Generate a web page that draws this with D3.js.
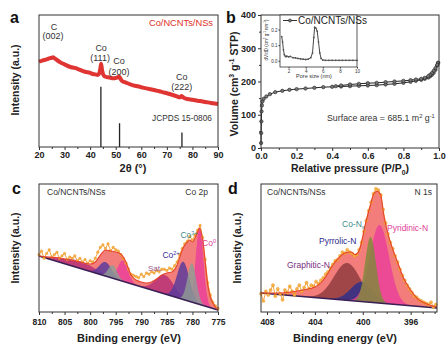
<!DOCTYPE html>
<html><head><meta charset="utf-8">
<script src="https://cdn.jsdelivr.net/npm/d3@7"></script>
<style>body{margin:0;background:#fff}svg{display:block}text{font-family:"Liberation Sans",Arial,sans-serif}</style>
</head><body><svg id="fig" width="448" height="351"></svg>
<script>
// ---------- (a) XRD ----------
const xrdTheta = [20,21,22,23,24,25,25.5,26,27,28,29,30,32,34,36,38,40,41,42,43,43.6,44,44.3,44.6,45,45.5,46,47,48,49,50,50.8,51.3,51.8,52.5,54,56,58,60,62,64,66,68,70,72,74,75,75.8,76.5,78,80,82,84,86,88,90];
const xrdIntensity = [64.6,65.3,65.9,66.4,67.2,67.6,67.9,67.3,65.9,64.6,63.4,62.6,60.8,59.9,58.5,57.0,56.1,55.3,55.0,54.5,56.0,59.5,63.0,59.0,55.5,53.8,53.2,52.8,52.4,52.0,52.3,52.8,53.5,51.8,50.0,48.8,47.3,46.2,45.3,44.4,43.6,42.7,41.8,40.7,39.6,38.3,37.6,38.6,37.4,36.4,35.8,35.1,34.5,33.8,33.2,32.6];
const jcpdsTheta = [44.2, 51.5, 75.9];
const jcpdsIntensity = [45.7, 18, 11];
const xrdTicks = [20,30,40,50,60,70,80,90];
const xrdMinor = [25,35,45,55,65,75,85];
const xrdPeakLabels = [["C","(002)",25.5,67.9],["Co","(111)",44.3,63.0],["Co","(200)",51.3,53.5],["Co","(222)",75.8,38.6]];

// ---------- (b) N2 isotherm ----------
const adsP = [0.0005,0.001,0.002,0.003,0.005,0.008,0.015,0.03,0.05,0.08,0.12,0.16,0.2,0.25,0.3,0.35,0.4,0.45,0.5,0.55,0.6,0.65,0.7,0.75,0.8,0.84,0.87,0.9,0.92,0.94,0.95,0.96,0.97,0.98,0.99,0.995];
const adsV = [15,45,80,110,128,140,148,155,162,168,172,175,177,179,181,183,184,185,186,187,188,189,191,193,196,199,202,205,208,212,216,220,226,235,248,256];
const desP = [0.995,0.99,0.98,0.97,0.96,0.95,0.94,0.92,0.9,0.87,0.84,0.8,0.75,0.7,0.65,0.6,0.55,0.5,0.45,0.42];
const desV = [256,250,240,232,225,220,216,211,208,206,204,202,200,198,196,195,193,191,188,186];
const isoXTicks = [0,0.2,0.4,0.6,0.8,1.0];
const isoYTicks = [0,100,200,300,400];
// inset pore size distribution
const poreSize = [1.2,1.3,1.4,1.5,1.6,1.7,1.8,2.0,2.2,2.5,2.8,3.1,3.4,3.7,4.0,4.3,4.6,4.8,4.95,5.05,5.2,5.35,5.5,5.65,5.8,6.0,6.3,6.7,7.1,7.5,7.9,8.3,8.7,9.1,9.5,10];
const poreDV = [0.155,0.12,0.07,0.04,0.03,0.025,0.03,0.025,0.028,0.02,0.018,0.015,0.012,0.01,0.008,0.01,0.02,0.05,0.15,0.215,0.21,0.19,0.12,0.05,0.015,0.005,0.003,0.003,0.003,0.003,0.003,0.003,0.003,0.003,0.003,0.003];
const poreXTicks = [2,4,6,8,10];
const poreYTicks = [0.0,0.1,0.2];

// ---------- (c) Co 2p XPS ----------
const coData = [[810,47],[809.5,50],[809,44],[808.5,48],[808,51],[807.5,45],[807,47],[806.5,49],[806,44],[805.5,46],[805,48],[804.5,43],[804,45],[803.5,44],[803,46],[802.5,42],[802,44],[801.5,41],[801,43],[800.5,40],[800,42],[799.5,41],[799,44],[798.5,49],[798,53],[797.5,55],[797,52],[796.5,56],[796,50],[795.5,53],[795,51],[794.5,50],[794,47],[793.5,44],[793,40],[792.5,35],[792,31],[791.5,30],[791,29],[790.5,28],[790,31],[789.5,29],[789,32],[788.5,31],[788,33],[787.5,32],[787,34],[786.5,33],[786,35],[785.5,35],[785,34],[784.5,36],[784,35],[783.5,38],[783,41],[782.5,47],[782,52],[781.5,56],[781,58],[780.5,62],[780,59],[779.5,63],[779,67],[778.5,71],[778,61],[777.5,43],[777,24],[776.5,14],[776,8],[775.5,5],[775,3]];
const coEnvelope = [[810,45.9],[808,45],[806,44.3],[804,42.6],[802,41],[800,39.3],[799,41],[798,46.7],[797,50.8],[796,50],[795,49.2],[794,47.5],[793,41],[792,30.3],[791,26.2],[790,24.6],[789,23.8],[788,24.6],[787,27],[786,30.3],[785,32],[784,32.8],[783,38.5],[782,50.8],[781,57.4],[780.5,59],[780,57.4],[779.5,60.7],[779,65.6],[778.6,68.9],[778,59],[777.5,41],[777,22.1],[776.5,12.3],[776,7.4],[775,1.6]];
const coBaseline = [[810,45.9],[775,1.6]];
const coPeakCenter = [802.3, 785.4, 793.6, 778.6, 797.0, 781.8, 795.6, 780.1];
const coPeakHeight = [6, 15.5, 17, 62.7, 11.5, 31, 10.8, 32];
const coPeakSigma = [3.2, 1.8, 1.0, 0.75, 1.2, 1.2, 0.85, 0.85];
const coPeakSpecies = ["Sat.","Sat.","Co0","Co0","Co2+","Co2+","Co3+","Co3+"];
const coTicks = [810,805,800,795,790,785,780,775];

// ---------- (d) N 1s XPS ----------
const nData = [[408.5,15],[408.3,9],[408.1,17],[407.9,14],[407.7,18],[407.5,22],[407.3,13],[407.1,19],[406.9,15],[406.7,10],[406.5,18],[406.3,16],[406.1,21],[405.9,17],[405.7,14],[405.5,19],[405.3,22],[405.1,17],[404.9,20],[404.7,24],[404.5,19],[404.3,22],[404.1,21],[403.9,25],[403.7,23],[403.5,26],[403.3,28],[403.1,31],[402.9,33],[402.7,36],[402.5,39],[402.3,42],[402.1,43],[401.9,46],[401.7,49],[401.5,48],[401.3,51],[401.1,49],[400.9,48],[400.7,46],[400.5,47],[400.3,51],[400.1,57],[399.9,66],[399.7,75],[399.5,83],[399.3,90],[399.1,97],[398.9,101],[398.7,100],[398.5,96],[398.3,84],[398.1,73],[397.9,64],[397.7,57],[397.5,52],[397.3,46],[397.1,41],[396.9,35],[396.7,30],[396.5,26],[396.3,22],[396.1,19],[395.9,16],[395.7,13],[395.5,12],[395.3,10],[395.1,9],[394.9,8],[394.7,7],[394.5,6],[394.3,8],[394.1,4],[393.9,6]];
const nEnvelope = [[408.5,15.6],[407,15.6],[406,16.4],[405,18],[404,20.5],[403.5,23.8],[403,30.3],[402.5,38.5],[402,44.3],[401.5,48.4],[401,49.2],[400.6,47],[400.2,53.3],[399.8,71.3],[399.36,87.7],[399.1,96.5],[398.8,99],[398.5,95.9],[398.25,79.5],[397.7,57.4],[397.1,41],[396.6,27.9],[396,18],[395.5,11.5],[394.4,5.7],[393.8,4.1]];
const nBaseline = [[408.5,15.6],[393.8,3.3]];
const nPeakCenter = [401.3, 400.1, 398.6, 399.35];
const nPeakHeight = [30.6, 16, 64, 53.6];
const nPeakSigma = [1.1, 0.9, 0.8, 0.45];
const nPeakSpecies = ["Graphitic-N","Pyrrolic-N","Pyridinic-N","Co-Nx"];
const nTicks = [408,404,400,396];
const nMinor = [407,406,405,403,402,401,399,398,397,395,394];

// ---------- drawing ----------
const svg = d3.select("#fig");
const FONT = "'Liberation Sans', Arial, sans-serif";

function txt(g, x, y, s, o = {}) {
  const t = g.append("text").attr("x", x).attr("y", y).text(s)
    .attr("font-size", o.size || 9).attr("fill", o.fill || "#222")
    .attr("font-weight", o.bold ? "bold" : "normal")
    .attr("text-anchor", o.anchor || "start");
  if (o.rot) t.attr("transform", `rotate(-90,${x},${y})`);
  return t;
}
function rich(g, x, y, parts, o = {}) {
  const size = o.size || 9;
  const t = g.append("text").attr("x", x).attr("y", y)
    .attr("font-size", size).attr("fill", o.fill || "#222")
    .attr("font-weight", o.bold ? "bold" : "normal")
    .attr("text-anchor", o.anchor || "start");
  if (o.rot) t.attr("transform", `rotate(-90,${x},${y})`);
  let shift = 0;
  parts.forEach(([s, k]) => {
    const target = k === "sup" ? -0.38 * size : k === "sub" ? 0.25 * size : 0;
    t.append("tspan").attr("dy", target - shift).attr("font-size", k === "n" ? size : size * 0.65).text(s);
    shift = target;
  });
  return t;
}
function frame(x0, y0, x1, y1) {
  svg.append("rect").attr("x", x0).attr("y", y0).attr("width", x1 - x0).attr("height", y1 - y0)
    .attr("fill", "none").attr("stroke", "#333").attr("stroke-width", 1);
}
function xAxis(scale, y, majors, minors, fmt, size, pad) {
  const g = svg.append("g").attr("transform", `translate(0,${y})`)
    .call(d3.axisBottom(scale).tickValues(majors).tickSize(3).tickPadding(pad).tickFormat(fmt));
  g.select(".domain").remove();
  g.selectAll("line").attr("stroke", "#333");
  g.selectAll("text").attr("font-size", size).attr("font-weight", "bold").attr("fill", "#222").attr("font-family", FONT);
  if (minors && minors.length) {
    const m = svg.append("g").attr("transform", `translate(0,${y})`)
      .call(d3.axisBottom(scale).tickValues(minors).tickSize(2).tickFormat(""));
    m.select(".domain").remove();
    m.selectAll("line").attr("stroke", "#333");
  }
  return g;
}

// ===== panel a =====
{
  const x = d3.scaleLinear([20, 90], [39, 218]);
  const y = d3.scaleLinear([0, 100], [147, 15]);
  const g = svg.append("g");
  g.selectAll("line.stick").data(jcpdsTheta).join("line")
    .attr("x1", d => x(d)).attr("x2", d => x(d))
    .attr("y1", y(0)).attr("y2", (d, i) => y(jcpdsIntensity[i]))
    .attr("stroke", "#222").attr("stroke-width", 1.3);
  const line = d3.line().x((d, i) => x(xrdTheta[i])).y(d => y(d)).curve(d3.curveMonotoneX);
  g.append("path").attr("d", line(xrdIntensity)).attr("fill", "none")
    .attr("stroke", "#d9201f").attr("stroke-width", 4).attr("stroke-linejoin", "round").attr("opacity", 0.9);
  g.append("path").attr("d", line(xrdIntensity)).attr("fill", "none")
    .attr("stroke", "#e8322c").attr("stroke-width", 1.2).attr("stroke-dasharray", "1.5,1.5");
  frame(39, 15, 218, 147);
  xAxis(x, 147, xrdTicks, xrdMinor, d3.format("d"), 9, 2);
  xrdPeakLabels.forEach(([a, b, t, v], i) => {
    const offs = [[-27, -17], [-13, -3], [-12, -1], [-16, -6]][i];
    txt(g, x(t) + (i === 0 ? 1 : 0), y(v) + offs[0], a, { size: 9, anchor: "middle", fill: "#333" });
    txt(g, x(t) + (i === 1 ? -1 : 0), y(v) + offs[1] + (i === 0 ? -1 : 0), b, { size: 9, anchor: "middle", fill: "#333" });
  });
  txt(g, 152, 121, "JCPDS 15-0806", { size: 8.3, fill: "#333" });
  txt(g, 213, 25.5, "Co/NCNTs/NSs", { size: 9.3, fill: "#e0302a", anchor: "end" });
  txt(g, 10, 23, "a", { size: 16, bold: true, fill: "#111" });
  txt(g, 19, 80, "Intensity (a.u.)", { size: 10.5, bold: true, rot: true, anchor: "middle", fill: "#222" });
  txt(g, 133, 172, "2θ (°)", { size: 11, bold: true, anchor: "middle", fill: "#222" });
}

// ===== panel b =====
{
  const x = d3.scaleLinear([0, 1], [261, 439]);
  const y = d3.scaleLinear([0, 400], [148, 15]);
  const g = svg.append("g");
  const line = d3.line().x(d => x(d[0])).y(d => y(d[1]));
  const ads = adsP.map((p, i) => [p, adsV[i]]);
  const des = desP.map((p, i) => [p, desV[i]]);
  [ads, des].forEach(arr => {
    g.append("path").attr("d", line(arr)).attr("fill", "none").attr("stroke", "#222").attr("stroke-width", 1);
    g.selectAll(null).data(arr).join("circle").attr("cx", d => x(d[0])).attr("cy", d => y(d[1]))
      .attr("r", 1.7).attr("fill", "#777").attr("stroke", "#222").attr("stroke-width", 0.6);
  });
  frame(261, 15, 439, 148);
  xAxis(x, 148, isoXTicks, [0.1, 0.3, 0.5, 0.7, 0.9], d3.format(".1f"), 9, 2);
  const ya = svg.append("g").attr("transform", "translate(261,0)")
    .call(d3.axisLeft(y).tickValues(isoYTicks).tickSize(3).tickPadding(2));
  ya.select(".domain").remove();
  ya.selectAll("line").attr("stroke", "#333");
  ya.selectAll("text").attr("font-size", 9).attr("font-weight", "bold").attr("fill", "#222").attr("font-family", FONT);
  const ym = svg.append("g").attr("transform", "translate(261,0)")
    .call(d3.axisLeft(y).tickValues([50, 150, 250, 350]).tickSize(2).tickFormat(""));
  ym.select(".domain").remove(); ym.selectAll("line").attr("stroke", "#333");

  txt(g, 226, 23, "b", { size: 16, bold: true, fill: "#111" });
  rich(g, 238, 84, [["Volume (cm", "n"], ["3", "sup"], [" g", "n"], ["-1", "sup"], [" STP)", "n"]],
    { size: 10.5, bold: true, rot: true, anchor: "middle" });
  rich(g, 350, 172, [["Relative pressure (P/P", "n"], ["0", "sub"], [")", "n"]], { size: 10.5, bold: true, anchor: "middle" });
  rich(g, 327, 121, [["Surface area = 685.1 m", "n"], ["2", "sup"], [" g", "n"], ["-1", "sup"]], { size: 8.8, fill: "#333" });

  // inset (drawn in its own group, above the main curves)
  const xi = d3.scaleLinear([1, 10], [280, 357]);
  const yi = d3.scaleLinear([-0.04, 0.30], [67, 14]);
  const ig = svg.append("g");
  ig.append("rect").attr("x", 280).attr("y", 15).attr("width", 77).attr("height", 52).attr("fill", "#fff");
  const il = d3.line().x((d, i) => xi(poreSize[i])).y(d => yi(d));
  ig.append("path").attr("d", il(poreDV)).attr("fill", "none").attr("stroke", "#333").attr("stroke-width", 0.9);
  ig.selectAll(null).data(poreDV).join("circle").attr("cx", (d, i) => xi(poreSize[i])).attr("cy", d => yi(d))
    .attr("r", 0.9).attr("fill", "#555");
  ig.append("rect").attr("x", 280).attr("y", 15).attr("width", 77).attr("height", 52)
    .attr("fill", "none").attr("stroke", "#333").attr("stroke-width", 0.8);
  const ixa = ig.append("g").attr("transform", "translate(0,67)")
    .call(d3.axisBottom(xi).tickValues(poreXTicks).tickSize(1.5).tickPadding(1).tickFormat(d3.format("d")));
  ixa.select(".domain").remove(); ixa.selectAll("line").attr("stroke", "#333");
  ixa.selectAll("text").attr("font-size", 4.5).attr("fill", "#333").attr("font-family", FONT);
  const iya = ig.append("g").attr("transform", "translate(280,0)")
    .call(d3.axisLeft(yi).tickValues(poreYTicks).tickSize(1.5).tickPadding(1).tickFormat(d3.format(".1f")));
  iya.select(".domain").remove(); iya.selectAll("line").attr("stroke", "#333");
  iya.selectAll("text").attr("font-size", 4.5).attr("fill", "#333").attr("font-family", FONT);
  txt(ig, 314, 77.5, "Pore size (nm)", { size: 5.5, anchor: "middle", fill: "#333" });
  rich(ig, 268, 40, [["dV/dD (cm", "n"], ["3", "sup"], [" g", "n"], ["-1", "sup"], [" nm", "n"], ["-1", "sup"], [")", "n"]],
    { size: 4.5, rot: true, anchor: "middle", fill: "#333" });
  ig.append("line").attr("x1", 283).attr("x2", 297).attr("y1", 20.5).attr("y2", 20.5).attr("stroke", "#333").attr("stroke-width", 1);
  ig.append("circle").attr("cx", 290).attr("cy", 20.5).attr("r", 1.5).attr("fill", "#777").attr("stroke", "#222").attr("stroke-width", 0.6);
  txt(ig, 298, 24, "Co/NCNTs/NSs", { size: 10, fill: "#222" });
}

// ===== XPS helper =====
function xpsPanel(o) {
  const x = d3.scaleLinear(o.dom, [o.x0, o.x1]);
  const y = d3.scaleLinear([0, 100], [312, 190]);
  const base = d3.scaleLinear(o.baseline.map(d => d[0]), o.baseline.map(d => d[1]));
  const g = svg.append("g");
  const lo = Math.min(...o.dom), hi = Math.max(...o.dom);
  const grid = d3.range(lo, hi + 0.001, 0.05);
  const env = d3.area().x(d => x(d[0])).y0(d => y(base(d[0]))).y1(d => y(d[1])).curve(d3.curveMonotoneX);
  g.append("path").attr("d", env(o.envelope.slice().sort((a, b) => a[0] - b[0]))).attr("fill", "#f27d7b");
  o.centers.forEach((c, i) => {
    const comp = d3.area().x(e => x(e)).y0(e => y(base(e)))
      .y1(e => y(base(e) + o.heights[i] * Math.exp(-((e - c) ** 2) / (2 * o.sigmas[i] ** 2))));
    g.append("path").attr("d", comp(grid.filter(e => Math.abs(e - c) < 5 * o.sigmas[i])))
      .attr("fill", o.colors[o.species[i]]).attr("fill-opacity", 0.82);
  });
  g.append("line").attr("x1", x(o.baseline[0][0])).attr("x2", x(o.baseline[1][0]))
    .attr("y1", y(o.baseline[0][1])).attr("y2", y(o.baseline[1][1]))
    .attr("stroke", "#3a1f55").attr("stroke-width", 1.5);
  const dl = d3.line().x(d => x(d[0])).y(d => y(d[1]));
  g.append("path").attr("d", dl(o.data)).attr("fill", "none").attr("stroke", "#f39a2d").attr("stroke-width", 1).attr("opacity", 0.9);
  g.selectAll(null).data(o.data).join("circle").attr("cx", d => x(d[0])).attr("cy", d => y(d[1]))
    .attr("r", o.dotR).attr("fill", "#f5b13c").attr("stroke", "#ee8a1e").attr("stroke-width", 0.4).attr("opacity", 0.9);
  const el = d3.line().x(d => x(d[0])).y(d => y(d[1])).curve(d3.curveMonotoneX);
  g.append("path").attr("d", el(o.envelope.slice().sort((a, b) => a[0] - b[0]))).attr("fill", "none")
    .attr("stroke", "#e5432a").attr("stroke-width", 1.1);
  frame(o.x0, 184, o.x1, 312);
  xAxis(x, 312, o.ticks, o.minor, d3.format("d"), 8.5, 4);
  return g;
}

// ===== panel c =====
{
  const colors = { "Sat.": "#b62f78", "Co0": "#ea3f9a", "Co2+": "#57399d", "Co3+": "#8f9c95" };
  const g = xpsPanel({
    dom: [810, 775], x0: 39, x1: 218, data: coData, envelope: coEnvelope, baseline: coBaseline,
    centers: coPeakCenter, heights: coPeakHeight, sigmas: coPeakSigma, species: coPeakSpecies, colors,
    ticks: coTicks, minor: [807.5, 802.5, 797.5, 792.5, 787.5, 782.5, 777.5], dotR: 1.3
  });
  txt(g, 12, 194, "c", { size: 16, bold: true, fill: "#111" });
  txt(g, 47, 195, "Co/NCNTs/NSs", { size: 8.5, fill: "#333" });
  txt(g, 208, 195, "Co 2p", { size: 8.5, fill: "#333", anchor: "end" });
  txt(g, 155, 271, "Sat.", { size: 8, fill: "#9c5a8e", anchor: "middle" });
  rich(g, 171, 258, [["Co", "n"], ["2+", "sup"]], { size: 8.5, fill: "#3d2c9c", anchor: "middle" });
  rich(g, 189, 238, [["Co", "n"], ["3+", "sup"]], { size: 8.5, fill: "#3f8d8d", anchor: "middle" });
  rich(g, 209, 246, [["Co", "n"], ["0", "sup"]], { size: 8.5, fill: "#e0409a", anchor: "middle" });
  txt(g, 19, 248, "Intensity (a.u.)", { size: 10.5, bold: true, rot: true, anchor: "middle", fill: "#222" });
  txt(g, 129, 342, "Binding energy (eV)", { size: 11, bold: true, anchor: "middle", fill: "#222" });
}

// ===== panel d =====
{
  const colors = { "Graphitic-N": "#8e3a3d", "Pyrrolic-N": "#2c2f8c", "Pyridinic-N": "#ea3f9a", "Co-Nx": "#7f8a3a" };
  const g = xpsPanel({
    dom: [408.5, 393.8], x0: 261, x1: 437, data: nData, envelope: nEnvelope, baseline: nBaseline,
    centers: nPeakCenter, heights: nPeakHeight, sigmas: nPeakSigma, species: nPeakSpecies, colors,
    ticks: nTicks, minor: nMinor, dotR: 1.6
  });
  txt(g, 228, 194, "d", { size: 16, bold: true, fill: "#111" });
  txt(g, 267, 195, "Co/NCNTs/NSs", { size: 8.5, fill: "#333" });
  txt(g, 432, 195, "N 1s", { size: 8.5, fill: "#333", anchor: "end" });
  rich(g, 342, 227, [["Co-N", "n"], ["x", "sub"]], { size: 8.5, fill: "#3f8d8d" });
  txt(g, 319, 244, "Pyrrolic-N", { size: 8.5, fill: "#2c2a8a" });
  txt(g, 287, 268, "Graphitic-N", { size: 8.5, fill: "#7a2f7f" });
  txt(g, 387, 231, "Pyridinic-N", { size: 8.5, fill: "#e0409a" });
  txt(g, 241, 248, "Intensity (a.u.)", { size: 10.5, bold: true, rot: true, anchor: "middle", fill: "#222" });
  txt(g, 345, 342, "Binding energy (eV)", { size: 11, bold: true, anchor: "middle", fill: "#222" });
}
</script></body></html>
